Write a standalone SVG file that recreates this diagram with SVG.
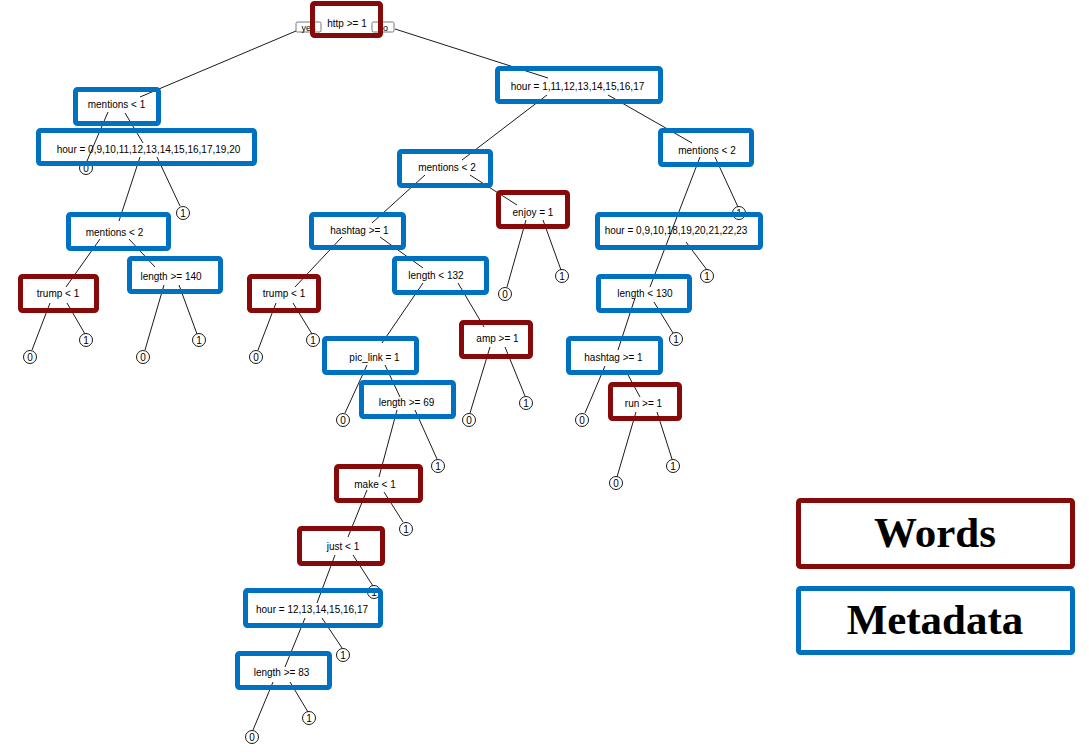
<svg xmlns="http://www.w3.org/2000/svg" width="1089" height="754" viewBox="0 0 1089 754">
<style>
.t{font-family:"Liberation Sans",Arial,sans-serif;font-size:10px;fill:#000;text-anchor:middle}
.yn{font-family:"Liberation Sans",Arial,sans-serif;font-size:9px;fill:#000;text-anchor:middle}
.ynb{fill:#fff;stroke:#555;stroke-width:0.8}
.c line{stroke:#000;stroke-width:0.9}
.leaf circle{fill:#fff;stroke:#000;stroke-width:0.9}
.w{fill:none;stroke:#870A0A;stroke-width:5}
.m{fill:none;stroke:#0070C0;stroke-width:5}
.lg{font-family:"Liberation Serif","Times New Roman",serif;font-weight:bold;font-size:43px;fill:#000;text-anchor:middle}
</style>
<rect width="1089" height="754" fill="#fff"/>
<g id="yesno">
<rect class="ynb" x="296" y="22" width="25" height="10" rx="1.5"/>
<text class="yn" x="308.5" y="30.5">yes</text>
<rect class="ynb" x="372" y="22" width="22" height="10" rx="1.5"/>
<text class="yn" x="383" y="30.5">no</text>
</g>
<g id="connectors" class="c">
<line x1="296" y1="31" x2="140" y2="97"/>
<line x1="395" y1="29" x2="548" y2="78"/>
<line x1="108" y1="112" x2="87" y2="161"/>
<line x1="125" y1="113" x2="143" y2="143"/>
<line x1="140" y1="157" x2="119" y2="221"/>
<line x1="157" y1="157" x2="180" y2="206"/>
<line x1="100" y1="239" x2="66" y2="287"/>
<line x1="129" y1="239" x2="155" y2="267"/>
<line x1="50" y1="303" x2="32" y2="350"/>
<line x1="67" y1="303" x2="85" y2="334"/>
<line x1="164" y1="285" x2="145" y2="350"/>
<line x1="179" y1="285" x2="197" y2="334"/>
<line x1="342" y1="237" x2="295" y2="287"/>
<line x1="276" y1="303" x2="258" y2="350"/>
<line x1="293" y1="303" x2="312" y2="334"/>
<line x1="547" y1="95" x2="462" y2="160"/>
<line x1="608" y1="95" x2="692" y2="143"/>
<line x1="425" y1="175" x2="372" y2="223"/>
<line x1="470" y1="175" x2="517" y2="205"/>
<line x1="380" y1="237" x2="423" y2="268"/>
<line x1="526" y1="220" x2="507" y2="287"/>
<line x1="543" y1="220" x2="561" y2="270"/>
<line x1="423" y1="283" x2="382" y2="343"/>
<line x1="458" y1="283" x2="484" y2="327"/>
<line x1="700" y1="157" x2="650" y2="287"/>
<line x1="715" y1="157" x2="738" y2="207"/>
<line x1="686" y1="242" x2="707" y2="270"/>
<line x1="635" y1="298" x2="618" y2="350"/>
<line x1="654" y1="302" x2="673" y2="333"/>
<line x1="605" y1="366" x2="585" y2="413"/>
<line x1="627" y1="373" x2="640" y2="397"/>
<line x1="636" y1="412" x2="617" y2="477"/>
<line x1="657" y1="412" x2="672" y2="459"/>
<line x1="367" y1="365" x2="345" y2="413"/>
<line x1="385" y1="365" x2="400" y2="397"/>
<line x1="490" y1="347" x2="470" y2="413"/>
<line x1="505" y1="347" x2="525" y2="396"/>
<line x1="397" y1="410" x2="379" y2="477"/>
<line x1="415" y1="410" x2="437" y2="459"/>
<line x1="367" y1="490" x2="348" y2="537"/>
<line x1="384" y1="492" x2="403" y2="522"/>
<line x1="335" y1="555" x2="317" y2="603"/>
<line x1="353" y1="555" x2="373" y2="586"/>
<line x1="305" y1="618" x2="285" y2="667"/>
<line x1="322" y1="618" x2="342" y2="648"/>
<line x1="273" y1="682" x2="253" y2="730"/>
<line x1="290" y1="682" x2="308" y2="712"/>
</g>
<g id="leaves" class="leaf">
<g id="l1"><circle cx="86" cy="168" r="6.5"/><text class="t" x="86" y="171.5">0</text></g>
<g id="l2"><circle cx="183" cy="213" r="6.5"/><text class="t" x="183" y="216.5">1</text></g>
<g id="l3"><circle cx="30" cy="357" r="6.5"/><text class="t" x="30" y="360.5">0</text></g>
<g id="l4"><circle cx="86" cy="340" r="6.5"/><text class="t" x="86" y="343.5">1</text></g>
<g id="l5"><circle cx="143" cy="357" r="6.5"/><text class="t" x="143" y="360.5">0</text></g>
<g id="l6"><circle cx="199" cy="340" r="6.5"/><text class="t" x="199" y="343.5">1</text></g>
<g id="l7"><circle cx="256" cy="357" r="6.5"/><text class="t" x="256" y="360.5">0</text></g>
<g id="l8"><circle cx="313" cy="340" r="6.5"/><text class="t" x="313" y="343.5">1</text></g>
<g id="l9"><circle cx="505" cy="294" r="6.5"/><text class="t" x="505" y="297.5">0</text></g>
<g id="l10"><circle cx="562" cy="276" r="6.5"/><text class="t" x="562" y="279.5">1</text></g>
<g id="l11"><circle cx="739" cy="213" r="6.5"/><text class="t" x="739" y="216.5">1</text></g>
<g id="l12"><circle cx="707" cy="276" r="6.5"/><text class="t" x="707" y="279.5">1</text></g>
<g id="l13"><circle cx="676" cy="339" r="6.5"/><text class="t" x="676" y="342.5">1</text></g>
<g id="l14"><circle cx="582" cy="420" r="6.5"/><text class="t" x="582" y="423.5">0</text></g>
<g id="l15"><circle cx="616" cy="483" r="6.5"/><text class="t" x="616" y="486.5">0</text></g>
<g id="l16"><circle cx="673" cy="466" r="6.5"/><text class="t" x="673" y="469.5">1</text></g>
<g id="l17"><circle cx="343" cy="420" r="6.5"/><text class="t" x="343" y="423.5">0</text></g>
<g id="l18"><circle cx="469" cy="420" r="6.5"/><text class="t" x="469" y="423.5">0</text></g>
<g id="l19"><circle cx="526" cy="403" r="6.5"/><text class="t" x="526" y="406.5">1</text></g>
<g id="l20"><circle cx="438" cy="466" r="6.5"/><text class="t" x="438" y="469.5">1</text></g>
<g id="l21"><circle cx="406" cy="529" r="6.5"/><text class="t" x="406" y="532.5">1</text></g>
<g id="l22"><circle cx="374" cy="592" r="6.5"/><text class="t" x="374" y="595.5">1</text></g>
<g id="l23"><circle cx="343" cy="655" r="6.5"/><text class="t" x="343" y="658.5">1</text></g>
<g id="l24"><circle cx="252" cy="737" r="6.5"/><text class="t" x="252" y="740.5">0</text></g>
<g id="l25"><circle cx="309" cy="718" r="6.5"/><text class="t" x="309" y="721.5">1</text></g>
</g>
<g id="n-http"><rect class="w" x="312.5" y="3.5" width="68" height="32" rx="2"/><text class="t" x="347" y="26.5">http &gt;= 1</text></g>
<g id="n-mentions1"><rect class="m" x="75.5" y="89.5" width="83" height="34" rx="2"/><text class="t" x="116.5" y="107.5">mentions &lt; 1</text></g>
<g id="n-hourA"><rect class="m" x="38.5" y="130.5" width="216" height="33" rx="2"/><text class="t" x="148.5" y="152.5">hour = 0,9,10,11,12,13,14,15,16,17,19,20</text></g>
<g id="n-mentions2L"><rect class="m" x="68.5" y="214.5" width="100" height="34" rx="2"/><text class="t" x="114.5" y="235.5">mentions &lt; 2</text></g>
<g id="n-trumpL"><rect class="w" x="20.5" y="276.5" width="76" height="34" rx="2"/><text class="t" x="58" y="296.5">trump &lt; 1</text></g>
<g id="n-length140"><rect class="m" x="129.5" y="258.5" width="91" height="33" rx="2"/><text class="t" x="171" y="279.5">length &gt;= 140</text></g>
<g id="n-hourB"><rect class="m" x="497.5" y="68.5" width="163" height="33" rx="2"/><text class="t" x="577.5" y="89.5">hour = 1,11,12,13,14,15,16,17</text></g>
<g id="n-mentions2C"><rect class="m" x="399.5" y="151.5" width="91" height="34" rx="2"/><text class="t" x="447" y="170.5">mentions &lt; 2</text></g>
<g id="n-hashtagC"><rect class="m" x="311.5" y="214.5" width="92" height="33" rx="2"/><text class="t" x="359.5" y="233.5">hashtag &gt;= 1</text></g>
<g id="n-trumpC"><rect class="w" x="249.5" y="276.5" width="69" height="34" rx="2"/><text class="t" x="284" y="296.5">trump &lt; 1</text></g>
<g id="n-enjoy"><rect class="w" x="498.5" y="192.5" width="69" height="34" rx="2"/><text class="t" x="533" y="215.5">enjoy = 1</text></g>
<g id="n-length132"><rect class="m" x="394.5" y="258.5" width="92" height="34" rx="2"/><text class="t" x="436" y="278.5">length &lt; 132</text></g>
<g id="n-piclink"><rect class="m" x="324.5" y="338.5" width="92" height="34" rx="2"/><text class="t" x="374.5" y="360.5">pic_link = 1</text></g>
<g id="n-amp"><rect class="w" x="461.5" y="322.5" width="69" height="34" rx="2"/><text class="t" x="497.5" y="341.5">amp &gt;= 1</text></g>
<g id="n-length69"><rect class="m" x="361.5" y="382.5" width="92" height="34" rx="2"/><text class="t" x="406.5" y="405.5">length &gt;= 69</text></g>
<g id="n-make"><rect class="w" x="336.5" y="466.5" width="84" height="34" rx="2"/><text class="t" x="375" y="487.5">make &lt; 1</text></g>
<g id="n-just"><rect class="w" x="299.5" y="528.5" width="83" height="35" rx="2"/><text class="t" x="343" y="549.5">just &lt; 1</text></g>
<g id="n-hourD"><rect class="m" x="245.5" y="590.5" width="135" height="35" rx="2"/><text class="t" x="312" y="612.5">hour = 12,13,14,15,16,17</text></g>
<g id="n-length83"><rect class="m" x="237.5" y="653.5" width="92" height="34" rx="2"/><text class="t" x="281.5" y="675.5">length &gt;= 83</text></g>
<g id="n-mentions2R"><rect class="m" x="660.5" y="130.5" width="91" height="34" rx="2"/><text class="t" x="707" y="153.5">mentions &lt; 2</text></g>
<g id="n-hourC"><rect class="m" x="597.5" y="214.5" width="163" height="33" rx="2"/><text class="t" x="676" y="233.5">hour = 0,9,10,18,19,20,21,22,23</text></g>
<g id="n-length130"><rect class="m" x="598.5" y="276.5" width="91" height="34" rx="2"/><text class="t" x="645" y="296.5">length &lt; 130</text></g>
<g id="n-hashtagR"><rect class="m" x="568.5" y="338.5" width="92" height="34" rx="2"/><text class="t" x="613.5" y="360.5">hashtag &gt;= 1</text></g>
<g id="n-run"><rect class="w" x="610.5" y="384.5" width="69" height="34" rx="2"/><text class="t" x="643.5" y="406.5">run &gt;= 1</text></g>
<g id="legend-words"><rect class="w" x="798.5" y="500.5" width="274" height="66" rx="2"/><text class="lg" x="935" y="547">Words</text></g>
<g id="legend-metadata"><rect class="m" x="798.5" y="588.5" width="274" height="64" rx="2"/><text class="lg" x="935" y="634">Metadata</text></g>
</svg>
